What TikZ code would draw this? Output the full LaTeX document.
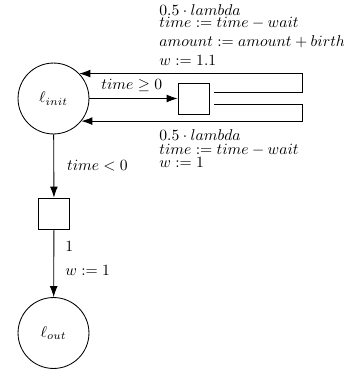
\documentclass[tikz,border=0pt]{standalone}
\usetikzlibrary{arrows.meta,calc}
\begin{document}
\begin{tikzpicture}[x=0.64pt,y=-0.64pt,
  line width=0.55pt,
  loc/.style={circle,draw,minimum size=45.4pt,inner sep=0pt},
  prob/.style={rectangle,draw,minimum size=19.8pt,inner sep=0pt},
  lbl/.style={anchor=base west,inner sep=0pt},
  arr/.style={-{Latex[length=7pt,width=5pt]}}]
\useasboundingbox (0,0) rectangle (343,372);
\node[loc] (init) at (53.5,98.5) {$\ell_{init}$};
\node[prob] (b1) at (193.5,98.5) {};
\node[prob] (b2) at (54,213.5) {};
\node[loc] (out) at (53.5,333) {$\ell_{out}$};
\coordinate (s1) at ($(b1.east)+(5,-6.3)$);
\coordinate (s2) at ($(b1.east)+(5,6.3)$);
\coordinate (rt) at (302.7,99);
\draw[arr] (init) -- (b1);
\draw[arr] (s1) -- (s1 -| rt) |- (init.44);
\draw[arr] (s2) -- (s2 -| rt) |- (init.-39);
\draw[arr] (init) -- (b2);
\draw[arr] (b2) -- (out);
\node[lbl] (g1) at (101,89) {$time \geq 0$};
\node[lbl] (u1) at (159,15.5) {$0.5 \cdot lambda$};
\node[lbl] (u2) at (159,27.5) {$time := time - wait$};
\node[lbl] (u3) at (159,46.5) {$amount := amount + birth$};
\node[lbl] (u4) at (159,65) {$w := 1.1$};
\node[lbl] (d1) at (159,140.7) {$0.5 \cdot lambda$};
\node[lbl] (d2) at (159,154) {$time := time - wait$};
\node[lbl] (d3) at (159,167.6) {$w := 1$};
\node[lbl] (g2) at (66.7,170.7) {$time < 0$};
\node[lbl] (p1) at (65,251.7) {$1$};
\node[lbl] (p2) at (65,275.7) {$w := 1$};
\end{tikzpicture}
\end{document}
